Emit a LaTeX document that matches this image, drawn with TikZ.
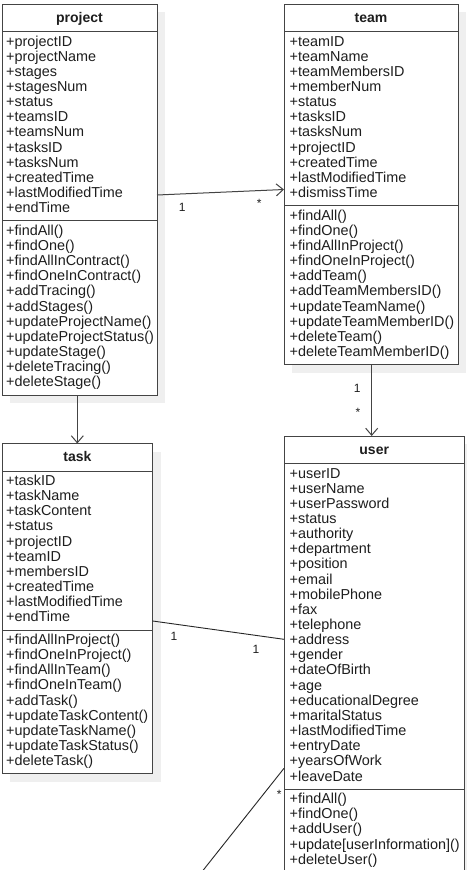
\documentclass[tikz,border=0pt]{standalone}
\usepackage{fontspec}
\setmainfont{Liberation Sans}
\usetikzlibrary{arrows.meta,backgrounds}
\definecolor{linec}{HTML}{444444}
\definecolor{textc}{HTML}{1E1E1E}
\definecolor{shadowc}{HTML}{EFEFEF}
\tikzset{
  classbox/.style={draw=linec, line width=1pt, fill=white, anchor=north west, inner sep=0pt, outer sep=0pt},
  item/.style={anchor=base west, inner sep=0pt, text=textc, font=\fontsize{14.4}{15}\selectfont},
  classtitle/.style={anchor=base, inner sep=0pt, text=textc, font=\bfseries\fontsize{14}{15}\selectfont},
  mult/.style={anchor=base, inner sep=0pt, text=textc, font=\fontsize{12}{13}\selectfont},
  rule/.style={draw=linec, line width=1pt},
  assoc/.style={draw=linec, line width=1pt, -{Straight Barb[length=7pt,width=12pt]}},
  link/.style={draw=black!85, line width=0.9pt},
  shadowbox/.style={fill=shadowc, draw=none}
}
\newcommand\classitems[4]{\foreach \t [count=\i] in {#4}{\node[item] (#1\i) at (#2,{#3+(\i-1)*15.15}) {\t};}}
\begin{document}
\begin{tikzpicture}[x=1pt,y=-1pt]
\useasboundingbox (0,0) rectangle (466,870);

% class boxes
\node[classbox, minimum width=155pt, minimum height=391pt] (project) at (2,4) {};
\node[classbox, minimum width=174pt, minimum height=360.7pt] (team) at (284,4) {};
\node[classbox, minimum width=150.7pt, minimum height=330.4pt] (task) at (2,443.5) {};
\node[classbox, minimum width=180.3pt, minimum height=436.4pt] (user) at (284,436) {};

\begin{pgfonlayer}{background}
  \fill[white] (0,0) rectangle (466,870);
  \foreach \b in {project,team,task,user}{
    \fill[shadowc] ([shift={(8,8)}]\b.north west) rectangle ([shift={(8,8)}]\b.south east);
  }
\end{pgfonlayer}

% compartments
\draw[rule] (project.west |- 0,31.5) -- (project.east |- 0,31.5);
\draw[rule] (project.west |- 0,220.8) -- (project.east |- 0,220.8);
\draw[rule] (team.west |- 0,31.5) -- (team.east |- 0,31.5);
\draw[rule] (team.west |- 0,205.65) -- (team.east |- 0,205.65);
\draw[rule] (task.west |- 0,471) -- (task.east |- 0,471);
\draw[rule] (task.west |- 0,630) -- (task.east |- 0,630);
\draw[rule] (user.west |- 0,463.5) -- (user.east |- 0,463.5);
\draw[rule] (user.west |- 0,789.15) -- (user.east |- 0,789.15);

% titles
\node[classtitle] (projectT) at (79.5,22) {project};
\node[classtitle] (teamT) at (371,22) {team};
\node[classtitle] (taskT) at (77.4,461.5) {task};
\node[classtitle] (userT) at (374.2,454) {user};

% project
\classitems{pa}{6}{46}{+projectID,+projectName,+stages,+stagesNum,+status,+teamsID,+teamsNum,+tasksID,+tasksNum,+createdTime,+lastModifiedTime,+endTime}
\classitems{pm}{6}{235.3}{+findAll(),+findOne(),+findAllInContract(),+findOneInContract(),+addTracing(),+addStages(),+updateProjectName(),+updateProjectStatus(),+updateStage(),+deleteTracing(),+deleteStage()}

% team
\classitems{ta}{289.5}{46}{+teamID,+teamName,+teamMembersID,+memberNum,+status,+tasksID,+tasksNum,+projectID,+createdTime,+lastModifiedTime,+dismissTime}
\classitems{tm}{289.5}{220.15}{+findAll(),+findOne(),+findAllInProject(),+findOneInProject(),+addTeam(),+addTeamMembersID(),+updateTeamName(),+updateTeamMemberID(),+deleteTeam(),+deleteTeamMemberID()}

% task
\classitems{ka}{6}{485.5}{+taskID,+taskName,+taskContent,+status,+projectID,+teamID,+membersID,+createdTime,+lastModifiedTime,+endTime}
\classitems{km}{6}{644.5}{+findAllInProject(),+findOneInProject(),+findAllInTeam(),+findOneInTeam(),+addTask(),+updateTaskContent(),+updateTaskName(),+updateTaskStatus(),+deleteTask()}

% user
\classitems{ua}{289.5}{478}{+userID,+userName,+userPassword,+status,+authority,+department,+position,+email,+mobilePhone,+fax,+telephone,+address,+gender,+dateOfBirth,+age,+educationalDegree,+maritalStatus,+lastModifiedTime,+entryDate,+yearsOfWork,+leaveDate}
\classitems{um}{289.5}{803.65}{+findAll(),+findOne(),+addUser(),+update[userInformation](),+deleteUser()}

% connectors
\draw[assoc] (project.east |- 0,195) -- (team.west |- 0,189.5);
\draw[assoc] (team.south -| 371.7,0) -- (user.north -| 371.7,0);
\draw[assoc] (project.south -| 77.3,0) -- (task.north -| 77.3,0);
\draw[link] (task.east |- 0,621) -- (user.west |- 0,639.3);
\coordinate (ext) at (195.4,880);
\draw[link] (user.west |- 0,768.3) -- (ext);

% multiplicities
\node[mult] (m1) at (182.3,211) {1};
\node[mult] (m2) at (259.3,207.5) {*};
\node[mult] (m3) at (357.3,392.6) {1};
\node[mult] (m4) at (358,416.8) {*};
\node[mult] (m5) at (174,640.3) {1};
\node[mult] (m6) at (256,653.6) {1};
\node[mult] (m7) at (279.3,798.5) {*};
\end{tikzpicture}
\end{document}
